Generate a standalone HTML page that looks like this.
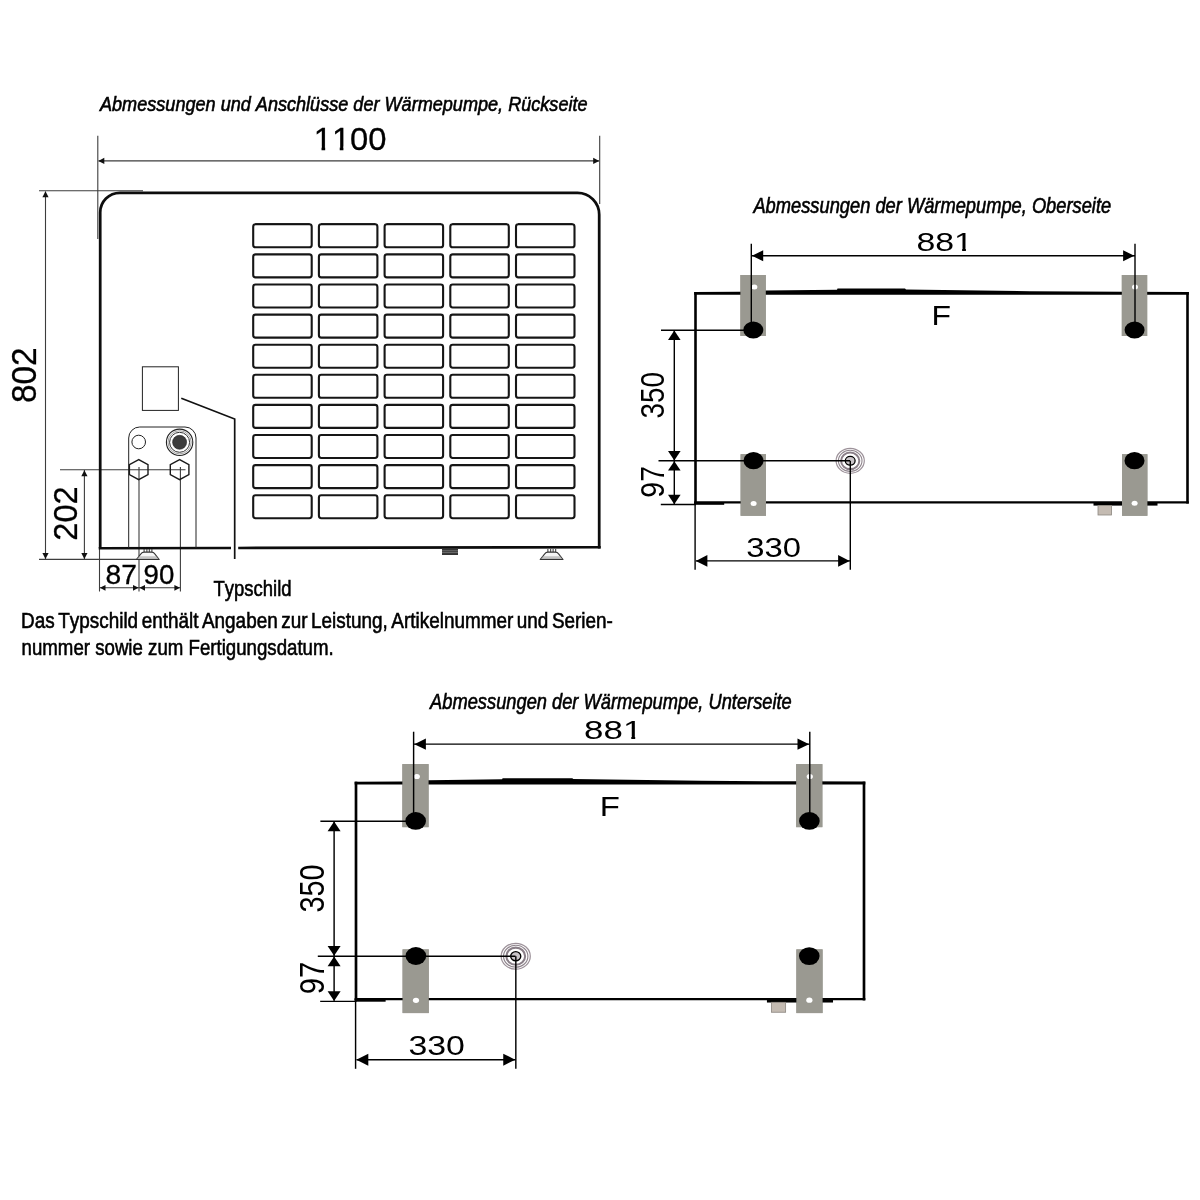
<!DOCTYPE html>
<html lang="de"><head><meta charset="utf-8"><title>Abmessungen der Wärmepumpe</title>
<style>
html,body{margin:0;padding:0;background:#fff}
body{width:1200px;height:1200px;overflow:hidden}
svg{display:block;will-change:transform}
text{font-family:"Liberation Sans",sans-serif;fill:#000;font-kerning:none;font-variant-ligatures:none}
text.b{stroke:#000;stroke-width:0.55px;vector-effect:non-scaling-stroke}
text.c{stroke:#000;stroke-width:0.55px;vector-effect:non-scaling-stroke}
text.n{stroke:#000;stroke-width:0.3px}
</style></head><body>
<svg width="1200" height="1200" viewBox="0 0 1200 1200">
<rect width="1200" height="1200" fill="#fff"/>
<g id="back">
<text transform="translate(99.99,111.40) scale(0.9283,1)" font-size="19.50" font-style="italic" class="c">Abmessungen und Anschlüsse der Wärmepumpe, Rückseite</text>
<g transform="translate(313.65,150.00) scale(1.0503,1)"><text font-size="31.21" class="n">1100</text><rect x="0.94" y="-3.43" width="6.54" height="5.31" fill="#fff"/><rect x="10.98" y="-3.43" width="6.50" height="5.31" fill="#fff"/><rect x="18.30" y="-3.43" width="6.54" height="5.31" fill="#fff"/><rect x="28.34" y="-3.43" width="6.50" height="5.31" fill="#fff"/></g>
<text transform="translate(36.27,403.05) rotate(-90) scale(0.9773,1)" font-size="34.18" class="n">802</text>
<text transform="translate(76.68,540.64) rotate(-90) scale(1.0013,1)" font-size="32.49" class="n">202</text>
<text transform="translate(105.58,583.54) scale(1.0500,1)" font-size="26.84" class="n">87</text>
<text transform="translate(143.50,583.54) scale(1.0311,1)" font-size="26.84" class="n">90</text>
<text transform="translate(213.58,596.20) scale(0.8256,1)" font-size="22.40" class="b">Typschild</text>
<text transform="translate(21.05,627.50) scale(0.8449,1)" font-size="22.40" class="b" word-spacing="-0.09em">Das Typschild enthält Angaben zur Leistung, Artikelnummer und Serien-</text>
<text transform="translate(21.56,654.90) scale(0.8335,1)" font-size="22.40" class="b">nummer sowie zum Fertigungsdatum.</text>
<line x1="97.80" y1="135.80" x2="97.80" y2="239.00" stroke="#3d3d3d" stroke-width="1.1"/>
<line x1="599.70" y1="135.80" x2="599.70" y2="204.00" stroke="#3d3d3d" stroke-width="1.1"/>
<line x1="98.50" y1="160.90" x2="599.00" y2="160.90" stroke="#3d3d3d" stroke-width="1.1"/>
<polygon points="98.30,160.90 104.30,157.80 104.30,164.00" fill="#111"/>
<polygon points="599.20,160.90 593.20,157.80 593.20,164.00" fill="#111"/>
<line x1="39.00" y1="190.80" x2="143.00" y2="190.80" stroke="#3d3d3d" stroke-width="1.1"/>
<line x1="39.00" y1="559.40" x2="138.00" y2="559.40" stroke="#3d3d3d" stroke-width="1.1"/>
<line x1="45.50" y1="191.50" x2="45.50" y2="559.00" stroke="#3d3d3d" stroke-width="1.1"/>
<polygon points="45.50,191.20 42.40,197.20 48.60,197.20" fill="#111"/>
<polygon points="45.50,559.00 42.40,553.00 48.60,553.00" fill="#111"/>
<line x1="60.00" y1="469.80" x2="185.50" y2="469.80" stroke="#3d3d3d" stroke-width="1.1"/>
<line x1="84.40" y1="470.00" x2="84.40" y2="559.00" stroke="#3d3d3d" stroke-width="1.1"/>
<polygon points="84.40,470.20 81.30,476.20 87.50,476.20" fill="#111"/>
<polygon points="84.40,559.00 81.30,553.00 87.50,553.00" fill="#111"/>
<line x1="99.50" y1="548.00" x2="99.50" y2="591.50" stroke="#3d3d3d" stroke-width="1.1"/>
<line x1="139.00" y1="467.00" x2="139.00" y2="591.50" stroke="#3d3d3d" stroke-width="1.1"/>
<line x1="180.40" y1="467.00" x2="180.40" y2="591.50" stroke="#3d3d3d" stroke-width="1.1"/>
<line x1="99.50" y1="587.80" x2="180.40" y2="587.80" stroke="#3d3d3d" stroke-width="1.1"/>
<polygon points="99.90,587.80 105.50,584.90 105.50,590.70" fill="#111"/>
<polygon points="138.60,587.80 133.00,584.90 133.00,590.70" fill="#111"/>
<polygon points="139.40,587.80 145.00,584.90 145.00,590.70" fill="#111"/>
<polygon points="180.00,587.80 174.40,584.90 174.40,590.70" fill="#111"/>
<path d="M100.2,548 V212.5 A19.7,19.7 0 0 1 119.9,192.8 H577.5 A21.7,21.7 0 0 1 599.2,214.5 V548.6" fill="none" stroke="#0d0d0d" stroke-width="2.75"/>
<path d="M98.7,548.2 L231,547.95 M238.2,547.93 L600.7,547.2" fill="none" stroke="#0d0d0d" stroke-width="2.6"/>
<rect x="253.20" y="224.30" width="58.5" height="23.0" rx="2.4" fill="none" stroke="#161616" stroke-width="2.1"/>
<rect x="318.90" y="224.30" width="58.5" height="23.0" rx="2.4" fill="none" stroke="#161616" stroke-width="2.1"/>
<rect x="384.60" y="224.30" width="58.5" height="23.0" rx="2.4" fill="none" stroke="#161616" stroke-width="2.1"/>
<rect x="450.30" y="224.30" width="58.5" height="23.0" rx="2.4" fill="none" stroke="#161616" stroke-width="2.1"/>
<rect x="516.00" y="224.30" width="58.5" height="23.0" rx="2.4" fill="none" stroke="#161616" stroke-width="2.1"/>
<rect x="253.20" y="254.40" width="58.5" height="23.0" rx="2.4" fill="none" stroke="#161616" stroke-width="2.1"/>
<rect x="318.90" y="254.40" width="58.5" height="23.0" rx="2.4" fill="none" stroke="#161616" stroke-width="2.1"/>
<rect x="384.60" y="254.40" width="58.5" height="23.0" rx="2.4" fill="none" stroke="#161616" stroke-width="2.1"/>
<rect x="450.30" y="254.40" width="58.5" height="23.0" rx="2.4" fill="none" stroke="#161616" stroke-width="2.1"/>
<rect x="516.00" y="254.40" width="58.5" height="23.0" rx="2.4" fill="none" stroke="#161616" stroke-width="2.1"/>
<rect x="253.20" y="284.50" width="58.5" height="23.0" rx="2.4" fill="none" stroke="#161616" stroke-width="2.1"/>
<rect x="318.90" y="284.50" width="58.5" height="23.0" rx="2.4" fill="none" stroke="#161616" stroke-width="2.1"/>
<rect x="384.60" y="284.50" width="58.5" height="23.0" rx="2.4" fill="none" stroke="#161616" stroke-width="2.1"/>
<rect x="450.30" y="284.50" width="58.5" height="23.0" rx="2.4" fill="none" stroke="#161616" stroke-width="2.1"/>
<rect x="516.00" y="284.50" width="58.5" height="23.0" rx="2.4" fill="none" stroke="#161616" stroke-width="2.1"/>
<rect x="253.20" y="314.60" width="58.5" height="23.0" rx="2.4" fill="none" stroke="#161616" stroke-width="2.1"/>
<rect x="318.90" y="314.60" width="58.5" height="23.0" rx="2.4" fill="none" stroke="#161616" stroke-width="2.1"/>
<rect x="384.60" y="314.60" width="58.5" height="23.0" rx="2.4" fill="none" stroke="#161616" stroke-width="2.1"/>
<rect x="450.30" y="314.60" width="58.5" height="23.0" rx="2.4" fill="none" stroke="#161616" stroke-width="2.1"/>
<rect x="516.00" y="314.60" width="58.5" height="23.0" rx="2.4" fill="none" stroke="#161616" stroke-width="2.1"/>
<rect x="253.20" y="344.70" width="58.5" height="23.0" rx="2.4" fill="none" stroke="#161616" stroke-width="2.1"/>
<rect x="318.90" y="344.70" width="58.5" height="23.0" rx="2.4" fill="none" stroke="#161616" stroke-width="2.1"/>
<rect x="384.60" y="344.70" width="58.5" height="23.0" rx="2.4" fill="none" stroke="#161616" stroke-width="2.1"/>
<rect x="450.30" y="344.70" width="58.5" height="23.0" rx="2.4" fill="none" stroke="#161616" stroke-width="2.1"/>
<rect x="516.00" y="344.70" width="58.5" height="23.0" rx="2.4" fill="none" stroke="#161616" stroke-width="2.1"/>
<rect x="253.20" y="374.80" width="58.5" height="23.0" rx="2.4" fill="none" stroke="#161616" stroke-width="2.1"/>
<rect x="318.90" y="374.80" width="58.5" height="23.0" rx="2.4" fill="none" stroke="#161616" stroke-width="2.1"/>
<rect x="384.60" y="374.80" width="58.5" height="23.0" rx="2.4" fill="none" stroke="#161616" stroke-width="2.1"/>
<rect x="450.30" y="374.80" width="58.5" height="23.0" rx="2.4" fill="none" stroke="#161616" stroke-width="2.1"/>
<rect x="516.00" y="374.80" width="58.5" height="23.0" rx="2.4" fill="none" stroke="#161616" stroke-width="2.1"/>
<rect x="253.20" y="404.90" width="58.5" height="23.0" rx="2.4" fill="none" stroke="#161616" stroke-width="2.1"/>
<rect x="318.90" y="404.90" width="58.5" height="23.0" rx="2.4" fill="none" stroke="#161616" stroke-width="2.1"/>
<rect x="384.60" y="404.90" width="58.5" height="23.0" rx="2.4" fill="none" stroke="#161616" stroke-width="2.1"/>
<rect x="450.30" y="404.90" width="58.5" height="23.0" rx="2.4" fill="none" stroke="#161616" stroke-width="2.1"/>
<rect x="516.00" y="404.90" width="58.5" height="23.0" rx="2.4" fill="none" stroke="#161616" stroke-width="2.1"/>
<rect x="253.20" y="435.00" width="58.5" height="23.0" rx="2.4" fill="none" stroke="#161616" stroke-width="2.1"/>
<rect x="318.90" y="435.00" width="58.5" height="23.0" rx="2.4" fill="none" stroke="#161616" stroke-width="2.1"/>
<rect x="384.60" y="435.00" width="58.5" height="23.0" rx="2.4" fill="none" stroke="#161616" stroke-width="2.1"/>
<rect x="450.30" y="435.00" width="58.5" height="23.0" rx="2.4" fill="none" stroke="#161616" stroke-width="2.1"/>
<rect x="516.00" y="435.00" width="58.5" height="23.0" rx="2.4" fill="none" stroke="#161616" stroke-width="2.1"/>
<rect x="253.20" y="465.10" width="58.5" height="23.0" rx="2.4" fill="none" stroke="#161616" stroke-width="2.1"/>
<rect x="318.90" y="465.10" width="58.5" height="23.0" rx="2.4" fill="none" stroke="#161616" stroke-width="2.1"/>
<rect x="384.60" y="465.10" width="58.5" height="23.0" rx="2.4" fill="none" stroke="#161616" stroke-width="2.1"/>
<rect x="450.30" y="465.10" width="58.5" height="23.0" rx="2.4" fill="none" stroke="#161616" stroke-width="2.1"/>
<rect x="516.00" y="465.10" width="58.5" height="23.0" rx="2.4" fill="none" stroke="#161616" stroke-width="2.1"/>
<rect x="253.20" y="495.20" width="58.5" height="23.0" rx="2.4" fill="none" stroke="#161616" stroke-width="2.1"/>
<rect x="318.90" y="495.20" width="58.5" height="23.0" rx="2.4" fill="none" stroke="#161616" stroke-width="2.1"/>
<rect x="384.60" y="495.20" width="58.5" height="23.0" rx="2.4" fill="none" stroke="#161616" stroke-width="2.1"/>
<rect x="450.30" y="495.20" width="58.5" height="23.0" rx="2.4" fill="none" stroke="#161616" stroke-width="2.1"/>
<rect x="516.00" y="495.20" width="58.5" height="23.0" rx="2.4" fill="none" stroke="#161616" stroke-width="2.1"/>
<line x1="255.20" y1="223.90" x2="309.70" y2="223.90" stroke="#111" stroke-width="1.5"/>
<line x1="320.90" y1="223.90" x2="375.40" y2="223.90" stroke="#111" stroke-width="1.5"/>
<line x1="386.60" y1="223.90" x2="441.10" y2="223.90" stroke="#111" stroke-width="1.5"/>
<line x1="452.30" y1="223.90" x2="506.80" y2="223.90" stroke="#111" stroke-width="1.5"/>
<line x1="518.00" y1="223.90" x2="572.50" y2="223.90" stroke="#111" stroke-width="1.5"/>
<rect x="142.4" y="366.8" width="36" height="43.6" fill="none" stroke="#222" stroke-width="1"/>
<path d="M181.3,398.3 L234.7,419 V559" fill="none" stroke="#111" stroke-width="1.7"/>
<path d="M128.7,548 V438 A11,11 0 0 1 139.7,427 H185 A11,11 0 0 1 196,438 V548" fill="none" stroke="#222" stroke-width="1"/>
<circle cx="138.7" cy="442" r="6.8" fill="#fff" stroke="#222" stroke-width="1"/>
<circle cx="179.6" cy="442.3" r="13.2" fill="#fff" stroke="#222" stroke-width="1.1"/>
<circle cx="179.6" cy="442.3" r="11.6" fill="none" stroke="#8a8a8a" stroke-width="0.8"/>
<circle cx="179.6" cy="442.3" r="10" fill="none" stroke="#333" stroke-width="1"/>
<circle cx="179.6" cy="442.3" r="7" fill="#3c3c3c" stroke="#222" stroke-width="0.6"/>
<polygon points="138.70,459.60 129.40,464.60 129.40,474.60 138.70,479.60 148.00,474.60 148.00,464.60" fill="none" stroke="#1a1a1a" stroke-width="1.4"/>
<polygon points="179.60,459.60 170.30,464.60 170.30,474.60 179.60,479.60 188.90,474.60 188.90,464.60" fill="none" stroke="#1a1a1a" stroke-width="1.4"/>
<path d="M136.39999999999998,559.5 L141.1,553.6 Q142.1,552.1 144.1,552.1 H151.6 Q153.6,552.1 154.6,553.6 L159.2,559.5 Z" fill="#f6f6f6" stroke="#333" stroke-width="1.1" stroke-linejoin="round"/><path d="M138.1,557 H157.5 M137.29999999999998,558.3 H158.29999999999998" stroke="#8a8a8a" stroke-width="0.7"/><path d="M144.1,549 V552 M146.89999999999998,549 V552 M149.29999999999998,549 V552 M151.89999999999998,549 V552" stroke="#333" stroke-width="1"/>
<path d="M540.2,559.5 L544.9,553.6 Q545.9,552.1 547.9,552.1 H555.4 Q557.4,552.1 558.4,553.6 L563.0,559.5 Z" fill="#f6f6f6" stroke="#333" stroke-width="1.1" stroke-linejoin="round"/><path d="M541.9,557 H561.3 M541.1,558.3 H562.1" stroke="#8a8a8a" stroke-width="0.7"/><path d="M547.9,549 V552 M550.7,549 V552 M553.1,549 V552 M555.7,549 V552" stroke="#333" stroke-width="1"/>
<rect x="442" y="548.5" width="16" height="6.5" fill="#333"/>
<path d="M442,550.8 H458 M442,552.6 H458" stroke="#8a8a8a" stroke-width="0.7"/>
</g>
<g id="top"><rect x="740.4" y="275" width="25.4" height="61" fill="#9a9991"/>
<rect x="1121.8" y="275" width="25.4" height="61" fill="#9a9991"/>
<rect x="740.6" y="454.2" width="25.4" height="61.6" fill="#9a9991"/>
<rect x="1122" y="454.2" width="25.4" height="61.6" fill="#9a9991"/>
<polygon points="694.2,292 740,291.8 766,290.6 837,289.7 837.5,288.6 905,288.6 906,289.5 1030,291.2 1122,291.7 1188.8,291.9 1188.8,294.8 694.2,294.8" fill="#000"/>
<line x1="695.50" y1="292.00" x2="695.50" y2="503.40" stroke="#000" stroke-width="2.6"/>
<line x1="1187.50" y1="292.00" x2="1187.50" y2="503.60" stroke="#000" stroke-width="2.6"/>
<line x1="694.20" y1="502.30" x2="1188.80" y2="502.30" stroke="#000" stroke-width="2.3"/>
<rect x="694.2" y="502" width="30" height="2.8" fill="#000"/>
<rect x="1093.5" y="502" width="64" height="3.6" fill="#000"/>
<rect x="1098" y="505.4" width="13.6" height="9.6" fill="#c4bbb2" stroke="#8d8780" stroke-width="0.8"/>
<rect x="740.4" y="275" width="25.4" height="61" fill="#9a9991"/>
<rect x="1121.8" y="275" width="25.4" height="61" fill="#9a9991"/>
<rect x="740.6" y="454.2" width="25.4" height="61.6" fill="#9a9991"/>
<rect x="1122" y="454.2" width="25.4" height="61.6" fill="#9a9991"/>
<ellipse cx="754.4" cy="287" rx="3" ry="2.5" fill="#fff"/>
<ellipse cx="1135" cy="287" rx="3" ry="2.5" fill="#fff"/>
<ellipse cx="753.6" cy="503.5" rx="3" ry="2.5" fill="#fff"/>
<ellipse cx="1134.6" cy="503.3" rx="3" ry="2.5" fill="#fff"/>
<ellipse cx="753.3" cy="330" rx="10" ry="8.6" fill="#000"/>
<ellipse cx="1134.6" cy="330" rx="10" ry="8.6" fill="#000"/>
<ellipse cx="753.5" cy="460.6" rx="10" ry="8.6" fill="#000"/>
<ellipse cx="1134.5" cy="460.7" rx="10" ry="8.6" fill="#000"/>
<ellipse cx="850.2" cy="460.8" rx="14.1" ry="12.5" fill="none" stroke="#9d929a" stroke-width="1.2"/>
<ellipse cx="850.2" cy="460.8" rx="11.8" ry="10.6" fill="none" stroke="#8f858d" stroke-width="1.1"/>
<ellipse cx="850.2" cy="460.8" rx="9.1" ry="8.3" fill="none" stroke="#8a7f88" stroke-width="2"/>
<ellipse cx="850.2" cy="460.8" rx="4.9" ry="4.4" fill="#c9c4c8" stroke="#000" stroke-width="1.3"/>
<line x1="751.30" y1="243.70" x2="751.30" y2="330.00" stroke="#000" stroke-width="1.4"/>
<line x1="1135.00" y1="243.70" x2="1135.00" y2="330.00" stroke="#000" stroke-width="1.4"/>
<line x1="751.30" y1="255.70" x2="1135.00" y2="255.70" stroke="#000" stroke-width="1.4"/>
<polygon points="752.00,255.70 763.20,250.20 763.20,261.20" fill="#000"/>
<polygon points="1134.30,255.70 1123.10,250.20 1123.10,261.20" fill="#000"/>
<line x1="661.00" y1="330.20" x2="753.00" y2="330.20" stroke="#000" stroke-width="1.4"/>
<line x1="658.50" y1="460.80" x2="850.00" y2="460.80" stroke="#000" stroke-width="1.4"/>
<line x1="660.80" y1="504.50" x2="696.00" y2="504.50" stroke="#000" stroke-width="1.4"/>
<line x1="674.30" y1="331.00" x2="674.30" y2="504.00" stroke="#000" stroke-width="1.4"/>
<polygon points="674.30,330.60 668.00,340.00 680.60,340.00" fill="#000"/>
<polygon points="674.30,460.40 668.00,451.00 680.60,451.00" fill="#000"/>
<polygon points="674.30,461.20 668.00,470.60 680.60,470.60" fill="#000"/>
<polygon points="674.30,504.20 668.00,494.80 680.60,494.80" fill="#000"/>
<line x1="695.10" y1="503.00" x2="695.10" y2="569.70" stroke="#000" stroke-width="1.4"/>
<line x1="850.30" y1="460.80" x2="850.30" y2="569.70" stroke="#000" stroke-width="1.4"/>
<line x1="696.00" y1="560.90" x2="850.00" y2="560.90" stroke="#000" stroke-width="1.4"/>
<polygon points="695.80,560.90 707.40,555.10 707.40,566.70" fill="#000"/>
<polygon points="849.70,560.90 838.10,555.10 838.10,566.70" fill="#000"/>
<g transform="translate(916.43,250.85) scale(1.3365,1)"><text font-size="25.28">881</text><rect x="28.88" y="-2.78" width="5.30" height="4.30" fill="#fff"/><rect x="37.02" y="-2.78" width="5.26" height="4.30" fill="#fff"/></g>
<text transform="translate(931.58,324.90) scale(1.1618,1)" font-size="27.47">F</text>
<text transform="translate(746.25,556.74) scale(1.2096,1)" font-size="27.12">330</text>
<text transform="translate(664.37,418.57) rotate(-90) scale(0.8284,1)" font-size="33.76">350</text>
<text transform="translate(664.37,497.63) rotate(-90) scale(0.8404,1)" font-size="33.76">97</text></g>
<g id="bottom" transform="translate(-362.104,479.738) scale(1.0325,1.034)"><rect x="740.4" y="275" width="25.4" height="61" fill="#9a9991"/>
<rect x="1121.8" y="275" width="25.4" height="61" fill="#9a9991"/>
<rect x="740.6" y="454.2" width="25.4" height="61.6" fill="#9a9991"/>
<rect x="1122" y="454.2" width="25.4" height="61.6" fill="#9a9991"/>
<polygon points="694.2,292 740,291.8 766,290.6 837,289.7 837.5,288.6 905,288.6 906,289.5 1030,291.2 1122,291.7 1188.8,291.9 1188.8,294.8 694.2,294.8" fill="#000"/>
<line x1="695.50" y1="292.00" x2="695.50" y2="503.40" stroke="#000" stroke-width="2.6"/>
<line x1="1187.50" y1="292.00" x2="1187.50" y2="503.60" stroke="#000" stroke-width="2.6"/>
<line x1="694.20" y1="502.30" x2="1188.80" y2="502.30" stroke="#000" stroke-width="2.3"/>
<rect x="694.2" y="502" width="30" height="2.8" fill="#000"/>
<rect x="1093.5" y="502" width="64" height="3.6" fill="#000"/>
<rect x="1098" y="505.4" width="13.6" height="9.6" fill="#c4bbb2" stroke="#8d8780" stroke-width="0.8"/>
<rect x="740.4" y="275" width="25.4" height="61" fill="#9a9991"/>
<rect x="1121.8" y="275" width="25.4" height="61" fill="#9a9991"/>
<rect x="740.6" y="454.2" width="25.4" height="61.6" fill="#9a9991"/>
<rect x="1122" y="454.2" width="25.4" height="61.6" fill="#9a9991"/>
<ellipse cx="754.4" cy="287" rx="3" ry="2.5" fill="#fff"/>
<ellipse cx="1135" cy="287" rx="3" ry="2.5" fill="#fff"/>
<ellipse cx="753.6" cy="503.5" rx="3" ry="2.5" fill="#fff"/>
<ellipse cx="1134.6" cy="503.3" rx="3" ry="2.5" fill="#fff"/>
<ellipse cx="753.3" cy="330" rx="10" ry="8.6" fill="#000"/>
<ellipse cx="1134.6" cy="330" rx="10" ry="8.6" fill="#000"/>
<ellipse cx="753.5" cy="460.6" rx="10" ry="8.6" fill="#000"/>
<ellipse cx="1134.5" cy="460.7" rx="10" ry="8.6" fill="#000"/>
<ellipse cx="850.2" cy="460.8" rx="14.1" ry="12.5" fill="none" stroke="#9d929a" stroke-width="1.2"/>
<ellipse cx="850.2" cy="460.8" rx="11.8" ry="10.6" fill="none" stroke="#8f858d" stroke-width="1.1"/>
<ellipse cx="850.2" cy="460.8" rx="9.1" ry="8.3" fill="none" stroke="#8a7f88" stroke-width="2"/>
<ellipse cx="850.2" cy="460.8" rx="4.9" ry="4.4" fill="#c9c4c8" stroke="#000" stroke-width="1.3"/>
<line x1="751.30" y1="243.70" x2="751.30" y2="330.00" stroke="#000" stroke-width="1.4"/>
<line x1="1135.00" y1="243.70" x2="1135.00" y2="330.00" stroke="#000" stroke-width="1.4"/>
<line x1="751.30" y1="255.70" x2="1135.00" y2="255.70" stroke="#000" stroke-width="1.4"/>
<polygon points="752.00,255.70 763.20,250.20 763.20,261.20" fill="#000"/>
<polygon points="1134.30,255.70 1123.10,250.20 1123.10,261.20" fill="#000"/>
<line x1="661.00" y1="330.20" x2="753.00" y2="330.20" stroke="#000" stroke-width="1.4"/>
<line x1="658.50" y1="460.80" x2="850.00" y2="460.80" stroke="#000" stroke-width="1.4"/>
<line x1="660.80" y1="504.50" x2="696.00" y2="504.50" stroke="#000" stroke-width="1.4"/>
<line x1="674.30" y1="331.00" x2="674.30" y2="504.00" stroke="#000" stroke-width="1.4"/>
<polygon points="674.30,330.60 668.00,340.00 680.60,340.00" fill="#000"/>
<polygon points="674.30,460.40 668.00,451.00 680.60,451.00" fill="#000"/>
<polygon points="674.30,461.20 668.00,470.60 680.60,470.60" fill="#000"/>
<polygon points="674.30,504.20 668.00,494.80 680.60,494.80" fill="#000"/>
<line x1="695.10" y1="503.00" x2="695.10" y2="569.70" stroke="#000" stroke-width="1.4"/>
<line x1="850.30" y1="460.80" x2="850.30" y2="569.70" stroke="#000" stroke-width="1.4"/>
<line x1="696.00" y1="560.90" x2="850.00" y2="560.90" stroke="#000" stroke-width="1.4"/>
<polygon points="695.80,560.90 707.40,555.10 707.40,566.70" fill="#000"/>
<polygon points="849.70,560.90 838.10,555.10 838.10,566.70" fill="#000"/>
<g transform="translate(916.43,250.85) scale(1.3365,1)"><text font-size="25.28">881</text><rect x="28.88" y="-2.78" width="5.30" height="4.30" fill="#fff"/><rect x="37.02" y="-2.78" width="5.26" height="4.30" fill="#fff"/></g>
<text transform="translate(931.58,324.90) scale(1.1618,1)" font-size="27.47">F</text>
<text transform="translate(746.25,556.74) scale(1.2096,1)" font-size="27.12">330</text>
<text transform="translate(664.37,418.57) rotate(-90) scale(0.8284,1)" font-size="33.76">350</text>
<text transform="translate(664.37,497.63) rotate(-90) scale(0.8404,1)" font-size="33.76">97</text></g>
<text transform="translate(753.40,213.30) scale(0.8319,1)" font-size="22.00" font-style="italic" class="c">Abmessungen der Wärmepumpe, Oberseite</text>
<text transform="translate(430.10,708.70) scale(0.8313,1)" font-size="22.00" font-style="italic" class="c">Abmessungen der Wärmepumpe, Unterseite</text>
</svg>
</body></html>
